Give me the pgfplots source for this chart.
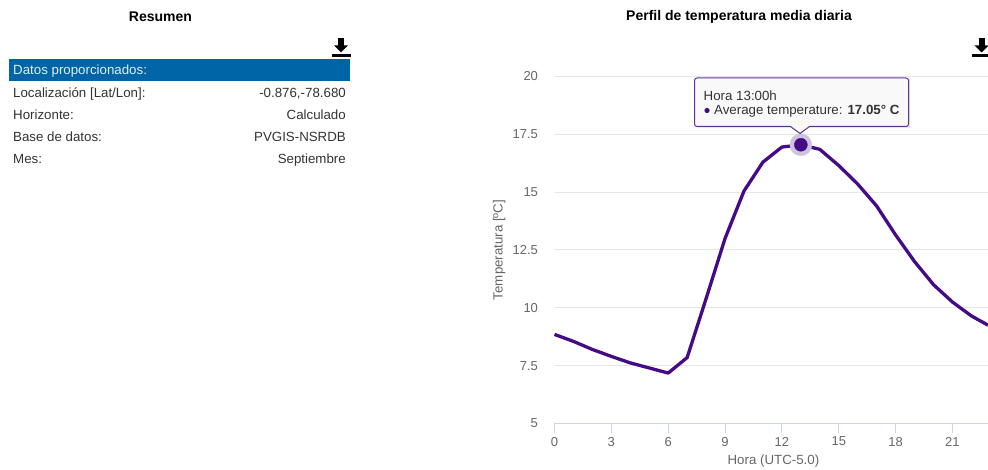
\documentclass[border=0pt]{standalone}
\usepackage{pgfplots}
\pgfplotsset{compat=1.18}
\usepackage{fontspec}
\setmainfont{Liberation Sans}
\definecolor{ind}{HTML}{450A85}
\definecolor{halo}{HTML}{CDC3E0}
\definecolor{hdr}{HTML}{0065A6}
\definecolor{txt}{HTML}{333333}
\definecolor{tick}{HTML}{666666}
\definecolor{axln}{HTML}{CCD6EB}
\definecolor{gridc}{HTML}{E6E6E6}
\begin{document}
\begin{tikzpicture}[x=1pt,y=1pt]
\useasboundingbox (0,0) rectangle (988,470);
\tikzset{tt/.style={inner sep=0pt,font=\fontsize{13.3}{15}\selectfont,text=txt}}
% left table
\node[tt,font=\fontsize{14}{16}\selectfont\bfseries,text=black] at (160.5,453.5) {Resumen};
\fill[hdr] (9,389) rectangle (350,411);
\node[tt,anchor=base west,text=white!88!hdr] at (13,395.5) {Datos proporcionados:};
\foreach \yy/\a/\b in {372.5/{Localización [Lat/Lon]:}/{-0.876,-78.680},350/Horizonte:/Calculado,328.5/Base de datos:/PVGIS-NSRDB,306.5/Mes:/Septiembre}{
  \node[tt,anchor=base west] at (13,\yy) {\a};
  \node[tt,anchor=base east] at (346,\yy) {\b};
}
% download icons
\foreach \ox in {331.5,972}{
  \fill[black] (\ox,413) rectangle ++(19,3);
  \fill[black] (\ox+6.5,432) rectangle ++(6,-8);
  \fill[black] (\ox+2.5,424.5) -- (\ox+16.5,424.5) -- (\ox+9.5,417.5) -- cycle;
}
\node[tt,font=\fontsize{14}{16}\selectfont\bfseries,text=black] at (739,453.5) {Perfil de temperatura media diaria};
\begin{axis}[
  at={(554.5pt,46.5pt)},anchor=south west,
  scale only axis,width=433.5pt,height=347pt,
  xmin=0,xmax=22.876,ymin=5,ymax=20,
  clip=false,
  axis x line*=bottom,
  axis y line*=left,
  x axis line style={draw=axln,line width=1pt,-},
  y axis line style={draw=none},
  xtick={0,3,6,9,12,15,18,21},
  ytick={5,7.5,10,12.5,15,17.5,20},
  yticklabels={5,7.5,10,12.5,15,17.5,20},
  ymajorgrids,
  grid style={gridc,line width=1pt},
  major tick length=10pt,
  x tick style={draw=axln,line width=1pt},
  xtick align=outside,
  y tick style={draw=none},
  ytick align=outside,
  /pgf/number format/assume math mode=true,
  tick label style={font=\fontsize{13}{15}\selectfont,text=tick},
  xticklabel style={yshift=0pt},
  yticklabel style={xshift=-3pt},
  xlabel={Hora (UTC-5.0)},
  ylabel={Temperatura [ºC]},
  label style={font=\fontsize{13.3}{15}\selectfont,text=tick},
  xlabel style={at={(axis description cs:0.505,0)},anchor=base,yshift=-41pt},
  ylabel style={at={(axis description cs:0,0.5)},anchor=base,yshift=52pt},
]
\addplot[ind,line width=3.3pt,line join=round] coordinates {
(0,8.85)(1,8.55)(2,8.2)(3,7.9)(4,7.62)(5,7.4)(6,7.18)(7,7.85)(8,10.4)(9,13.0)(10,15.05)(11,16.3)(12,16.95)(13,17.05)(14,16.85)(15,16.15)(16,15.35)(17,14.4)(18,13.15)(19,12.0)(20,11.0)(21,10.25)(22,9.65)(22.876,9.25)};
\addplot[only marks,halo,mark=*,mark size=11pt,mark options={draw=halo,fill=halo}] coordinates {(13,17.05)};
\addplot[only marks,ind,mark=*,mark size=6.5pt,mark options={draw=ind,fill=ind}] coordinates {(13,17.05)};
\end{axis}
% tooltip
\fill[black,opacity=0.10] (696.5,342) rectangle (910,390.5);
\draw[ind!85,line width=1pt,fill=white!97.5!black,line join=round]
  (697,343.5) -- (790.5,343.5) -- (800,336.5) -- (809.5,343.5) -- (906,343.5)
  arc[start angle=-90,end angle=0,radius=2.5] -- (908.5,389.5)
  arc[start angle=0,end angle=90,radius=2.5] -- (697,392)
  arc[start angle=90,end angle=180,radius=2.5] -- (694.5,346)
  arc[start angle=180,end angle=270,radius=2.5] -- cycle;
\node[tt,anchor=base west] at (703.5,369.5) {Hora 13:00h};
\fill[ind] (707,359.5) circle (2.6);
\node[tt,anchor=base west] at (714,355) {Average temperature: \textbf{17.05° C}};
\end{tikzpicture}
\end{document}
